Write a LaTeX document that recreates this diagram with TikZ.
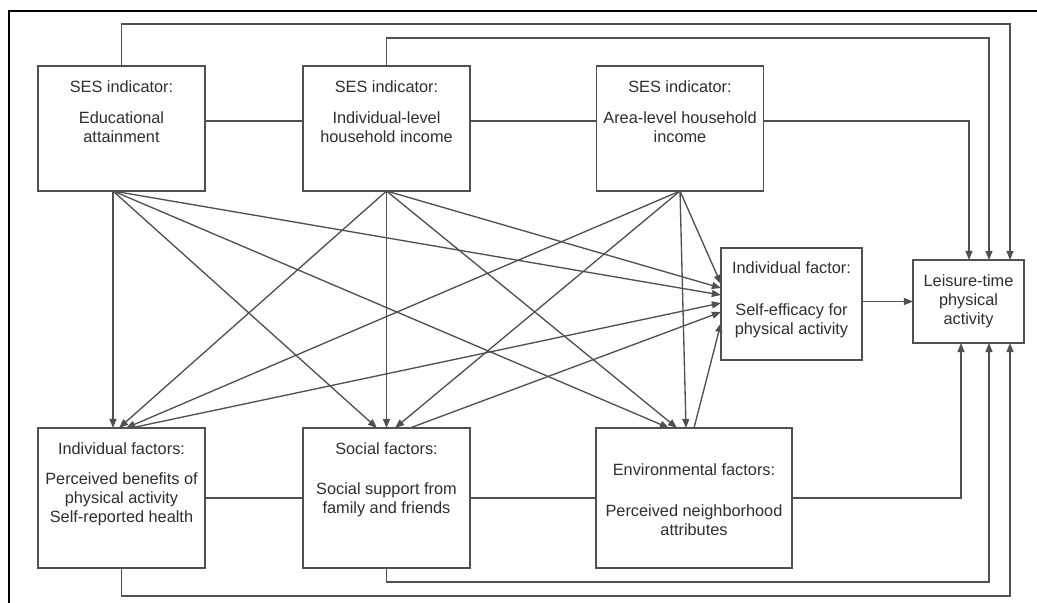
\documentclass[tikz,border=0pt]{standalone}
\usepackage{fontspec}
\setmainfont{Liberation Sans}
\usepackage{xcolor}
\usepackage{tikz}
\usetikzlibrary{arrows.meta,positioning,calc}

\definecolor{linegray}{HTML}{505050}
\definecolor{textgray}{HTML}{2E2E2E}

\begin{document}
\begin{tikzpicture}[x=0.025cm, y=-0.025cm,
    box/.style={draw=linegray, line width=1pt, outer sep=0pt, inner sep=0pt},
    txt/.style={font=\fontsize{11.6}{13.5}\selectfont, text=textgray, align=center, inner sep=0pt},
    link/.style={draw=linegray, line width=0.95pt},
    arr/.style={link, -{Triangle[length=6.5pt,width=5pt]}}]

  \useasboundingbox (0,0) rectangle (1037,603);

  % Frame
  \draw[line width=1.3pt] (9,603) -- (9,11) -- (1037,11);

  % SES indicators
  \node[box, minimum width=4.175cm, minimum height=3.125cm] (edu) at (121.5,128.5) {};
  \node[box, minimum width=4.175cm, minimum height=3.125cm] (inc) at (386.5,128.5) {};
  \node[box, minimum width=4.175cm, minimum height=3.125cm] (area) at (680,128.5) {};

  % Mediators and outcome
  \node[box, minimum width=3.525cm, minimum height=2.8cm] (selfeff) at (791.5,304) {};
  \node[box, minimum width=2.775cm, minimum height=2.075cm] (lei) at (968.5,301.5) {};
  \node[box, minimum width=4.175cm, minimum height=3.5cm] (indf) at (121.5,498) {};
  \node[box, minimum width=4.175cm, minimum height=3.5cm] (soc) at (386.5,498) {};
  \node[box, minimum width=4.9cm, minimum height=3.5cm] (env) at (694,498) {};

  % Box texts
  \node[txt, anchor=north] (edutxt) at ($(edu.north)+(0,14)$) {SES indicator:\\[9pt]Educational\\attainment};
  \node[txt, anchor=north] (inctxt) at ($(inc.north)+(0,14)$) {SES indicator:\\[9pt]Individual-level\\household income};
  \node[txt, anchor=north] (areatxt) at ($(area.north)+(0,14)$) {SES indicator:\\[9pt]Area-level household\\income};
  \node[txt, anchor=north] (selfefftxt) at ($(selfeff.north)+(0,13)$) {Individual factor:\\[17pt]Self-efficacy for\\physical activity};
  \node[txt] (leitxt) at (lei) {Leisure-time\\physical\\activity};
  \node[txt, anchor=north] (indftxt) at ($(indf.north)+(0,14)$) {Individual factors:\\[8pt]Perceived benefits of\\physical activity\\Self-reported health};
  \node[txt, anchor=north] (soctxt) at ($(soc.north)+(0,14)$) {Social factors:\\[15pt]Social support from\\family and friends};
  \node[txt, anchor=north] (envtxt) at ($(env.north)+(0,35)$) {Environmental factors:\\[16pt]Perceived neighborhood\\attributes};

  % Origins of the SES arrows
  \coordinate (edu-o) at ($(edu.south)+(-8.5,0)$);
  \coordinate (inc-o) at (inc.south);
  \coordinate (area-o) at (area.south);

  % Educational attainment
  \draw[arr] (edu-o) -- ($(indf.north)+(-8.5,0)$);
  \draw[arr] (edu-o) -- ($(soc.north)+(-9.5,0)$);
  \draw[arr] (edu-o) -- ($(env.north)+(-25,0)$);
  \draw[arr] (edu-o) -- ($(selfeff.west)+(0,-9)$);

  % Individual-level income
  \draw[arr] (inc-o) -- ($(indf.north)+(-2.5,0)$);
  \draw[arr] (inc-o) -- (soc.north);
  \draw[arr] (inc-o) -- ($(env.north)+(-17,0)$);
  \draw[arr] (inc-o) -- ($(selfeff.west)+(0,-16)$);

  % Area-level income
  \draw[arr] (area-o) -- ($(indf.north)+(4.5,0)$);
  \draw[arr] (area-o) -- ($(soc.north)+(8.5,0)$);
  \draw[arr] (area-o) -- ($(env.north)+(-8,0)$);
  \draw[arr] (area-o) -- ($(selfeff.west)+(0,-20)$);

  % Factors to self-efficacy
  \draw[arr] ($(indf.north)+(9.5,0)$) -- ($(selfeff.west)+(0,-1)$);
  \draw[arr] ($(soc.north)+(23.5,0)$) -- ($(selfeff.west)+(0,8)$);
  \draw[arr] (env.north) -- ($(selfeff.west)+(0,19)$);

  % Links between SES indicators
  \draw[link] ($(edu.east)+(0,-7.5)$) -- ($(inc.west)+(0,-7.5)$);
  \draw[link] ($(inc.east)+(0,-7.5)$) -- ($(area.west)+(0,-7.5)$);

  % Links between factors
  \draw[link] (indf.east) -- (soc.west);
  \draw[link] (soc.east) -- (env.west);

  % Direct paths to leisure-time activity
  \draw[arr] (edu.north) -- ++(0,-42) -| ($(lei.north)+(41.5,0)$);
  \draw[arr] (inc.north) -- ++(0,-28) -| ($(lei.north)+(20.5,0)$);
  \draw[arr] ($(area.east)+(0,-7.5)$) -| ($(lei.north)+(0.5,0)$);
  \draw[arr] (lei.west -| selfeff.east) -- (lei.west);
  \draw[arr] (env.east) -| ($(lei.south)+(-7.5,0)$);
  \draw[arr] (soc.south) -- ++(0,14) -| ($(lei.south)+(20.5,0)$);
  \draw[arr] (indf.south) -- ++(0,28) -| ($(lei.south)+(41.5,0)$);

\end{tikzpicture}
\end{document}
